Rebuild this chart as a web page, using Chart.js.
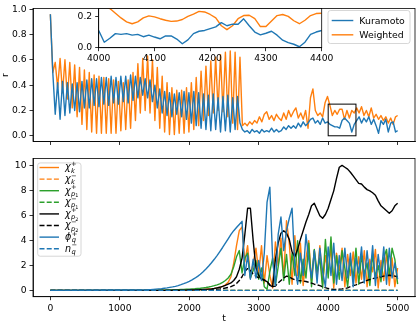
<!DOCTYPE html>
<html>
<head>
<meta charset="utf-8">
<script src="https://cdn.jsdelivr.net/npm/chart.js@4.4.1/dist/chart.umd.min.js"></script>
<style>
  body { margin: 0; background: #fff; }
  #wrap { position: relative; width: 416px; height: 324px; }
  canvas { position: absolute; }
  #top { left: 0; top: 0; }
  #bottom { left: 0; top: 150px; }
  #inset { left: 60px; top: 0; }
</style>
</head>
<body>
<div id="wrap">
  <canvas id="top" width="416" height="150"></canvas>
  <canvas id="bottom" width="416" height="174"></canvas>
  <canvas id="inset" width="280" height="66"></canvas>
</div>
<script>
// ---- top panel: order parameter r(t), sampled every 35 time units, last point t=5000
var tTop = [];
for (var i = 0; i <= 142; i++) tTop.push(i * 35);
tTop.push(5000);

var kuramoto = [
  0.96, 0.50, 0.17, 0.42, 0.13, 0.43, 0.16, 0.42, 0.18, 0.41,
  0.20, 0.42, 0.19, 0.43, 0.22, 0.44, 0.22, 0.45, 0.24, 0.45,
  0.23, 0.46, 0.25, 0.46, 0.24, 0.47, 0.26, 0.46, 0.25, 0.47,
  0.27, 0.47, 0.26, 0.48, 0.28, 0.47, 0.30, 0.46, 0.32, 0.45,
  0.30, 0.44, 0.27, 0.40, 0.22, 0.37, 0.18, 0.35, 0.16, 0.34,
  0.15, 0.33, 0.17, 0.34, 0.15, 0.35, 0.13, 0.34, 0.10, 0.35,
  0.08, 0.34, 0.06, 0.33, 0.05, 0.32, 0.04, 0.33, 0.05, 0.30,
  0.03, 0.31, 0.04, 0.32, 0.03, 0.30, 0.05, 0.31, 0.10, 0.05,
  0.03, 0.04, 0.02, 0.05, 0.03, 0.04, 0.02, 0.05, 0.03, 0.04,
  0.03, 0.06, 0.03, 0.05, 0.03, 0.04, 0.07, 0.05, 0.08, 0.06,
  0.08, 0.06, 0.10, 0.07, 0.11, 0.08, 0.10, 0.13, 0.14, 0.10,
  0.12, 0.09, 0.14, 0.10, 0.11, 0.09, 0.08, 0.07, 0.07, 0.06,
  0.12, 0.14, 0.12, 0.10, 0.03, 0.09, 0.12, 0.15, 0.10, 0.14,
  0.11, 0.15, 0.09, 0.13, 0.08, 0.02, 0.12, 0.09, 0.13, 0.03,
  0.10, 0.11, 0.03, 0.04
];
var weighted = [
  0.96, 0.50, 0.58, 0.38, 0.61, 0.34, 0.60, 0.29, 0.58, 0.22,
  0.56, 0.15, 0.54, 0.09, 0.52, 0.05, 0.50, 0.03, 0.48, 0.02,
  0.47, 0.02, 0.46, 0.02, 0.45, 0.02, 0.44, 0.02, 0.43, 0.04,
  0.42, 0.05, 0.44, 0.06, 0.50, 0.12, 0.57, 0.18, 0.61, 0.20,
  0.63, 0.18, 0.60, 0.12, 0.54, 0.06, 0.47, 0.03, 0.42, 0.01,
  0.38, 0.01, 0.36, 0.02, 0.36, 0.02, 0.38, 0.03, 0.42, 0.05,
  0.46, 0.08, 0.51, 0.12, 0.55, 0.16, 0.59, 0.18, 0.62, 0.20,
  0.64, 0.19, 0.66, 0.15, 0.67, 0.10, 0.66, 0.05, 0.62, 0.08,
  0.10, 0.08, 0.11, 0.09, 0.12, 0.10, 0.15, 0.11, 0.17, 0.19,
  0.13, 0.16, 0.12, 0.17, 0.14, 0.12, 0.18, 0.13, 0.20, 0.15,
  0.19, 0.22, 0.14, 0.18, 0.13, 0.20, 0.06, 0.30, 0.37, 0.20,
  0.16, 0.18, 0.15, 0.26, 0.31, 0.24, 0.16, 0.20, 0.17, 0.21,
  0.21, 0.13, 0.20, 0.14, 0.20, 0.18, 0.22, 0.18, 0.23, 0.16,
  0.20, 0.15, 0.22, 0.14, 0.17, 0.13, 0.16, 0.12, 0.15, 0.10,
  0.14, 0.09, 0.15, 0.16
];

// inset: zoom on 4000..4400, sampled every 10
var tInset = [];
for (var i = 0; i <= 40; i++) tInset.push(4000 + i * 10);
var kuramotoInset = [
  0.110, 0.035, 0.060, 0.090, 0.085, 0.090, 0.080, 0.085, 0.070, 0.080,
  0.068, 0.057, 0.075, 0.075, 0.055, 0.025, 0.050, 0.090, 0.105, 0.110,
  0.122, 0.133, 0.160, 0.140, 0.150, 0.150, 0.184, 0.140, 0.100, 0.082,
  0.092, 0.105, 0.080, 0.048, 0.032, 0.022, 0.006, 0.035, 0.085, 0.100,
  0.110
];
var weightedInset = [
  0.300, 0.270, 0.250, 0.220, 0.190, 0.165, 0.153, 0.165, 0.190, 0.203,
  0.197, 0.185, 0.175, 0.168, 0.170, 0.180, 0.200, 0.214, 0.232, 0.228,
  0.212, 0.190, 0.140, 0.115, 0.140, 0.185, 0.205, 0.207, 0.185, 0.135,
  0.135, 0.170, 0.205, 0.212, 0.200, 0.172, 0.153, 0.175, 0.205, 0.218,
  0.220
];
var zoomT = [4000, 4400];
var zoomR = [0, 0.25];

// ---- bottom panel: t = 0, then 1400..5000 every 40
var tBottom = [0];
for (var t = 1400; t <= 5000; t += 40) tBottom.push(t);
var tEnds = [0, 5000];
var zeros = [0, 0];

var chiKPlus = [0,
  0, 0, 0, 0, 0, 0, 0, 0, 0, 0,
  0.01, 0.01, 0.01, 0.02, 0.02, 0.03, 0.03, 0.04, 0.05, 0.06,
  0.07, 0.09, 0.11, 0.13, 0.16, 0.2, 0.25, 0.33, 0.45, 0.65,
  1.1, 2.2, 3.6, 4.8, 5.1, 2.3, 3.6, 1.0, 2.2, 3.4,
  1.4, 3.6, 0.6, 2.8, 1.2, 0.2, 3.9, 2.0, 4.2, 1.0,
  5.6, 3.8, 0.5, 4.4, 1.2, 3.8, 0.4, 2.6, 4.0, 0.8,
  3.2, 1.0, 3.6, 0.5, 2.8, 1.4, 3.5, 0.2, 3.0, 1.6,
  3.4, 0.3, 2.9, 1.2, 3.1, 0.6, 2.7, 0.9, 3.2, 0.3,
  2.5, 1.5, 3.3, 0.2, 2.4, 0.8, 3.0, 0.4, 2.6, 0.3,
  1.8
];
var chiP1Plus = [0,
  0, 0, 0.01, 0.01, 0.01, 0.02, 0.02, 0.03, 0.03, 0.04,
  0.05, 0.06, 0.07, 0.08, 0.09, 0.1, 0.12, 0.13, 0.15, 0.17,
  0.2, 0.23, 0.27, 0.32, 0.38, 0.45, 0.53, 0.65, 0.8, 1.0,
  1.3, 1.9, 2.7, 3.2, 1.4, 2.6, 3.0, 1.0, 1.6, 2.4,
  0.9, 1.8, 0.3, 0.1, 1.5, 2.6, 0.4, 1.9, 3.4, 0.8,
  2.9, 0.5, 3.0, 1.2, 4.0, 0.6, 2.5, 1.0, 3.8, 0.3,
  3.3, 1.5, 2.6, 0.2, 4.1, 1.0, 4.3, 0.6, 2.8, 0.9,
  3.2, 1.8, 0.3, 2.5, 1.0, 3.4, 0.5, 2.8, 1.3, 2.2,
  0.4, 2.9, 1.1, 2.0, 0.7, 2.6, 3.3, 1.2, 3.4, 2.5,
  0.5
];
var chiP2Plus = [0,
  0, 0, 0, 0, 0, 0, 0, 0, 0, 0.01,
  0.01, 0.01, 0.01, 0.02, 0.02, 0.03, 0.03, 0.04, 0.05, 0.06,
  0.07, 0.08, 0.1, 0.12, 0.15, 0.2, 0.25, 0.32, 0.4, 0.5,
  0.6, 0.8, 1.1, 1.7, 2.6, 4.5, 6.6, 6.6, 4.0, 1.8,
  1.2, 0.9, 0.8, 0.7, 0.4, 0.3, 2.5, 3.8, 4.6, 4.8,
  4.6, 4.1, 3.1, 2.7, 3.3, 4.1, 4.8, 5.5, 6.1, 6.8,
  7.0, 6.5, 6.0, 5.8, 6.1, 6.6, 7.3, 8.0, 9.0, 9.9,
  10.05, 9.9, 9.75, 9.5, 9.2, 8.9, 8.6, 8.55, 8.3, 8.1,
  8.0, 7.85, 7.65, 7.2, 6.8, 6.6, 6.4, 6.2, 6.4, 6.8,
  7.0
];
var chiP2Minus = [0,
  0, 0, 0, 0, 0, 0, 0, 0, 0, 0,
  0, 0, 0, 0, 0.01, 0.01, 0.01, 0.02, 0.02, 0.03,
  0.03, 0.04, 0.05, 0.06, 0.08, 0.1, 0.12, 0.15, 0.19, 0.24,
  0.3, 0.4, 0.55, 0.8, 1.1, 1.55, 1.75, 1.6, 1.3, 1.15,
  1.0, 0.95, 0.85, 0.7, 0.45, 0.3, 0.35, 0.6, 0.8, 1.0,
  1.15, 1.1, 0.95, 0.85, 0.8, 0.78, 0.75, 0.72, 0.65, 0.58,
  0.5, 0.45, 0.38, 0.3, 0.22, 0.15, 0.1, 0.08, 0.08, 0.1,
  0.12, 0.15, 0.2, 0.3, 0.38, 0.45, 0.55, 0.62, 0.7, 0.8,
  0.88, 0.95, 1.0, 1.05, 1.1, 1.15, 1.2, 1.22, 1.2, 1.15,
  1.1
];
var phiQPlus = [0,
  0.05, 0.06, 0.08, 0.10, 0.12, 0.14, 0.17, 0.20, 0.24, 0.28,
  0.33, 0.39, 0.46, 0.54, 0.63, 0.73, 0.85, 0.98, 1.13, 1.30,
  1.50, 1.72, 1.96, 2.22, 2.50, 2.80, 3.12, 3.45, 3.80, 4.15,
  4.50, 4.80, 5.05, 5.30, 5.55, 1.2, 2.8, 0.9, 2.5, 1.0,
  2.4, 0.8, 3.0, 7.1, 8.3, 2.5, 0.4, 4.5, 5.9, 3.2,
  4.8, 5.8, 6.6, 2.0, 0.5, 3.0, 1.2, 4.5, 2.5, 1.0,
  3.2, 0.6, 3.4, 1.5, 0.3, 3.5, 1.2, 3.8, 0.5, 2.8,
  0.8, 3.4, 1.0, 3.0, 0.3, 2.6, 1.4, 3.5, 0.6, 3.2,
  1.0, 3.6, 0.4, 2.9, 1.1, 3.5, 0.5, 3.4, 1.0, 2.2,
  0.9
];

var xTicks = [0, 1000, 2000, 3000, 4000, 5000];
var yTicksTop = [0, 0.2, 0.4, 0.6, 0.8, 1.0];
var yTicksBottom = [0, 2, 4, 6, 8, 10];
var xTicksInset = [4000, 4100, 4200, 4300, 4400];
var yTicksInset = [0, 0.2];

var BLUE = '#1f77b4', ORANGE = '#ff7f0e', GREEN = '#2ca02c', BLACK = '#000000';
var DASH = [5, 2.2];

Chart.defaults.font.family = '"DejaVu Sans", sans-serif';
Chart.defaults.font.size = 9.2;
Chart.defaults.color = '#000';

function pts(ts, vs) {
  return ts.map(function (t, i) { return {x: t, y: vs[i]}; });
}

function axis(min, max, ticks, fmt) {
  return {
    type: 'linear', min: min, max: max, offset: false,
    afterBuildTicks: function (s) { s.ticks = ticks.map(function (v) { return {value: v}; }); },
    ticks: { callback: fmt, padding: 3, maxRotation: 0, autoSkip: false },
    grid: { drawOnChartArea: false, drawTicks: true, tickLength: 3.5, tickColor: '#000', tickWidth: 0.8 },
    border: { display: true, color: '#000', width: 0.8 }
  };
}
function fmt1(v) { return v.toFixed(1); }
function fmt0(v) { return String(v); }

function roundRect(ctx, x, y, w, h, r) {
  ctx.beginPath();
  ctx.moveTo(x + r, y);
  ctx.lineTo(x + w - r, y); ctx.quadraticCurveTo(x + w, y, x + w, y + r);
  ctx.lineTo(x + w, y + h - r); ctx.quadraticCurveTo(x + w, y + h, x + w - r, y + h);
  ctx.lineTo(x + r, y + h); ctx.quadraticCurveTo(x, y + h, x, y + h - r);
  ctx.lineTo(x, y + r); ctx.quadraticCurveTo(x, y, x + r, y);
  ctx.closePath();
}

// text like chi_{p_1}^{+}
function drawLabel(ctx, it, x, y) {
  ctx.fillStyle = '#000';
  ctx.textAlign = 'left';
  ctx.textBaseline = 'alphabetic';
  if (!it.base) {
    ctx.font = '9.4px "DejaVu Sans"';
    ctx.fillText(it.text, x, y + 3.4);
    return;
  }
  var b = y + 2.8;
  ctx.font = 'italic 9.6px "DejaVu Sans"';
  ctx.fillText(it.base, x, b);
  var w = ctx.measureText(it.base).width + 0.3;
  ctx.font = 'italic 6.7px "DejaVu Sans"';
  ctx.fillText(it.sub, x + w, b + 2.3);
  var ws = ctx.measureText(it.sub).width;
  if (it.subsub) {
    ctx.font = '4.9px "DejaVu Sans"';
    ctx.fillText(it.subsub, x + w + ws, b + 3.9);
  }
  ctx.font = '6.7px "DejaVu Sans"';
  ctx.fillText(it.sup, x + w, b - 4.4);
}

var frame = {
  id: 'frame',
  beforeDraw: function (c, args, o) {
    if (!o || !o.fill) return;
    var a = c.chartArea;
    c.ctx.save();
    c.ctx.fillStyle = '#fff';
    c.ctx.fillRect(a.left, a.top, a.right - a.left, a.bottom - a.top);
    c.ctx.restore();
  },
  afterDatasetsDraw: function (c) {
    var a = c.chartArea, ctx = c.ctx;
    ctx.save();
    ctx.strokeStyle = '#000';
    ctx.lineWidth = 0.8;
    ctx.strokeRect(a.left, a.top, a.right - a.left, a.bottom - a.top);
    ctx.restore();
  }
};

var zoomBox = {
  id: 'zoomBox',
  afterDatasetsDraw: function (c) {
    var xs = c.scales.x, ys = c.scales.y, ctx = c.ctx;
    var x0 = xs.getPixelForValue(zoomT[0]), x1 = xs.getPixelForValue(zoomT[1]);
    var y0 = ys.getPixelForValue(zoomR[1]), y1 = ys.getPixelForValue(zoomR[0]);
    ctx.save();
    ctx.strokeStyle = '#000';
    ctx.lineWidth = 1;
    ctx.strokeRect(x0, y0, x1 - x0, y1 - y0);
    ctx.restore();
  }
};

var boxLegend = {
  id: 'boxLegend',
  afterDraw: function (c, args, o) {
    if (!o || !o.items) return;
    var ctx = c.ctx, a = c.chartArea;
    var x0 = o.left != null ? a.left + o.left : a.right - o.right - o.width;
    var y0 = a.top + o.top;
    ctx.save();
    roundRect(ctx, x0, y0, o.width, o.height, 2.5);
    ctx.fillStyle = 'rgba(255,255,255,0.8)';
    ctx.fill();
    ctx.strokeStyle = '#cccccc';
    ctx.lineWidth = 0.8;
    ctx.stroke();
    o.items.forEach(function (it, k) {
      var ds = c.data.datasets[it.ds];
      var y = y0 + o.first + k * o.gap;
      ctx.beginPath();
      ctx.setLineDash(ds.borderDash || []);
      ctx.strokeStyle = ds.borderColor;
      ctx.lineWidth = ds.borderWidth;
      ctx.moveTo(x0 + o.lineX, y);
      ctx.lineTo(x0 + o.lineX + o.lineLen, y);
      ctx.stroke();
      ctx.setLineDash([]);
      drawLabel(ctx, it, x0 + o.textX, y);
    });
    ctx.restore();
  }
};

function baseOptions() {
  return {
    responsive: false, animation: false, devicePixelRatio: 1, events: [],
    elements: { point: { radius: 0 }, line: { tension: 0, borderJoinStyle: 'round' } },
    plugins: { legend: { display: false }, tooltip: { enabled: false } }
  };
}

// ---------- top chart
var topOpts = baseOptions();
topOpts.layout = { padding: { top: 3, right: 1, left: 0, bottom: 0 } };
topOpts.scales = {
  x: axis(-250, 5250, xTicks, fmt0),
  y: axis(-0.045, 1.005, yTicksTop, fmt1)
};
topOpts.scales.x.ticks.display = false;
topOpts.scales.x.afterFit = function (s) { s.height = 5; };
topOpts.scales.y.afterFit = function (s) { s.width = 33; };
topOpts.scales.y.title = { display: true, text: 'r', padding: 0 };
topOpts.plugins.boxLegend = {
  right: 5, width: 82, top: 2, height: 33, first: 10, gap: 14.3,
  lineX: 3.7, lineLen: 21.6, textX: 31.3,
  items: [ { ds: 0, text: 'Kuramoto' }, { ds: 1, text: 'Weighted' } ]
};

new Chart(document.getElementById('top'), {
  type: 'line',
  data: {
    datasets: [
      { label: 'Kuramoto', data: pts(tTop, kuramoto), borderColor: BLUE, borderWidth: 1.4 },
      { label: 'Weighted', data: pts(tTop, weighted), borderColor: ORANGE, borderWidth: 1.4 }
    ]
  },
  options: topOpts,
  plugins: [frame, zoomBox, boxLegend]
});

// ---------- inset
var inOpts = baseOptions();
inOpts.layout = { padding: { top: 5, right: 18.3, left: 0, bottom: 0 } };
inOpts.scales = {
  x: axis(zoomT[0], zoomT[1], xTicksInset, fmt0),
  y: axis(zoomR[0], zoomR[1], yTicksInset, fmt1)
};
inOpts.scales.x.ticks.padding = 1.5;
inOpts.scales.x.afterFit = function (s) { s.height = 18.3; };
inOpts.scales.y.afterFit = function (s) { s.width = 38.7; };
inOpts.plugins.frame = { fill: true };

new Chart(document.getElementById('inset'), {
  type: 'line',
  data: {
    datasets: [
      { label: 'Kuramoto', data: pts(tInset, kuramotoInset), borderColor: BLUE, borderWidth: 1.4 },
      { label: 'Weighted', data: pts(tInset, weightedInset), borderColor: ORANGE, borderWidth: 1.4 }
    ]
  },
  options: inOpts,
  plugins: [frame]
});

// ---------- bottom chart
var botOpts = baseOptions();
botOpts.layout = { padding: { top: 3.3, right: 1, left: 0, bottom: 0 } };
botOpts.scales = {
  x: axis(-250, 5250, xTicks, fmt0),
  y: axis(-0.505, 10.6, yTicksBottom, fmt0)
};
botOpts.scales.x.afterFit = function (s) { s.height = 27.3; };
botOpts.scales.x.title = { display: true, text: 't', padding: 0 };
botOpts.scales.y.afterFit = function (s) { s.width = 33; };
botOpts.plugins.boxLegend = {
  left: 4.7, width: 43.3, top: 4.4, height: 93.3, first: 4.6, gap: 11.6,
  lineX: 1.8, lineLen: 19.5, textX: 27.3,
  items: [
    { ds: 0, base: 'χ', sub: 'k', sup: '+' },
    { ds: 1, base: 'χ', sub: 'k', sup: '−' },
    { ds: 2, base: 'χ', sub: 'p', subsub: '1', sup: '+' },
    { ds: 3, base: 'χ', sub: 'p', subsub: '1', sup: '−' },
    { ds: 4, base: 'χ', sub: 'p', subsub: '2', sup: '+' },
    { ds: 5, base: 'χ', sub: 'p', subsub: '2', sup: '−' },
    { ds: 6, base: 'ϕ', sub: 'q', sup: '+' },
    { ds: 7, base: 'n', sub: 'q', sup: '−' }
  ]
};

new Chart(document.getElementById('bottom'), {
  type: 'line',
  data: {
    datasets: [
      { label: 'chi_k+', data: pts(tBottom, chiKPlus), borderColor: ORANGE, borderWidth: 1.4, order: 7 },
      { label: 'chi_k-', data: pts(tEnds, zeros), borderColor: ORANGE, borderWidth: 1.4, borderDash: DASH, order: 6 },
      { label: 'chi_p1+', data: pts(tBottom, chiP1Plus), borderColor: GREEN, borderWidth: 1.4, order: 5 },
      { label: 'chi_p1-', data: pts(tEnds, zeros), borderColor: GREEN, borderWidth: 1.4, borderDash: DASH, order: 4 },
      { label: 'chi_p2+', data: pts(tBottom, chiP2Plus), borderColor: BLACK, borderWidth: 1.4, order: 3 },
      { label: 'chi_p2-', data: pts(tBottom, chiP2Minus), borderColor: BLACK, borderWidth: 1.4, borderDash: DASH, order: 2 },
      { label: 'phi_q+', data: pts(tBottom, phiQPlus), borderColor: BLUE, borderWidth: 1.4, order: 1 },
      { label: 'n_q-', data: pts(tEnds, zeros), borderColor: BLUE, borderWidth: 1.4, borderDash: DASH, order: 0 }
    ]
  },
  options: botOpts,
  plugins: [frame, boxLegend]
});
</script>
</body>
</html>
